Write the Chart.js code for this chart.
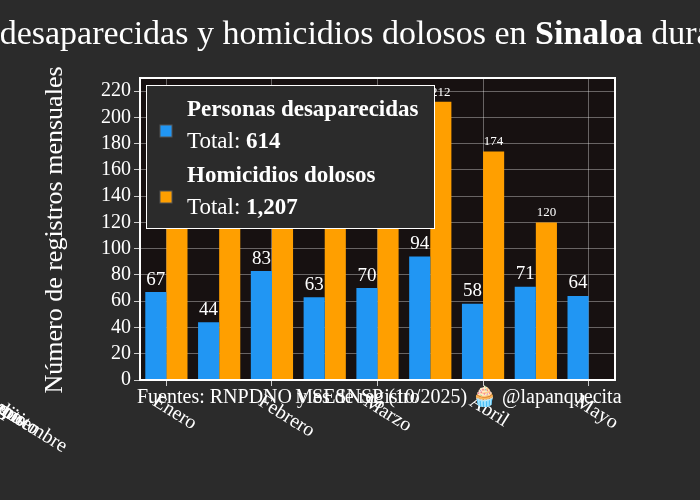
<!DOCTYPE html>
<html><head><meta charset="utf-8">
<script src="https://cdn.jsdelivr.net/npm/chart.js@4"></script>
<style>html,body{margin:0;background:#2b2b2b}#w{width:700px;height:500px}</style></head>
<body><div id="w"><canvas id="c"></canvas></div>
<script>
const months=["Enero","Febrero","Marzo","Abril","Mayo","Junio","Julio","Agosto","Septiembre"];
const desaparecidas=[67,44,83,63,70,94,58,71,64];
const homicidios=[138,129,152,142,140,212,174,120,null];
const yTicks=[0,20,40,60,80,100,120,140,160,180,200,220];
const F="'Liberation Serif', serif";
const sum=a=>a.reduce((s,v)=>s+(v||0),0);
const fmt=n=>n.toLocaleString('en-US');
const deco={id:'deco',
 beforeDraw(c){const {ctx,chartArea:a}=c;ctx.save();ctx.fillStyle='#171111';ctx.fillRect(a.left,a.top,a.right-a.left,a.bottom-a.top);ctx.restore();},
 afterDatasetsDraw(c){const ctx=c.ctx;ctx.save();ctx.textAlign='center';ctx.textBaseline='bottom';ctx.fillStyle='#fff';
  c.data.datasets.forEach((d,i)=>{c.getDatasetMeta(i).data.forEach((b,j)=>{const v=d.data[j];if(v==null)return;
   ctx.font=(i==0?'19px ':'13px ')+F;ctx.fillText(v,b.x,b.y-3);});});ctx.restore();},
 afterDraw(c){const {ctx,chartArea:a}=c;ctx.save();
  ctx.strokeStyle='#fff';ctx.lineWidth=2;ctx.strokeRect(a.left,a.top,a.right-a.left,a.bottom-a.top);
  ctx.fillStyle='#fff';
  // x tick labels rotated clockwise
  const xs=c.scales.x;ctx.font='20px '+F;ctx.textAlign='left';ctx.textBaseline='middle';
  months.forEach((m,i)=>{const px=xs.getPixelForTick(i);ctx.save();ctx.translate(px-12,400);ctx.rotate(32*Math.PI/180);ctx.fillText(m,0,0);ctx.restore();});
  // title
  const p1='Personas desaparecidas y homicidios dolosos en ',p2='Sinaloa',p3=' durante 2025';
  const S='34px ';ctx.font=S+F;const w1=ctx.measureText(p1).width,w3=ctx.measureText(p3).width;
  ctx.font='bold '+S+F;const w2=ctx.measureText(p2).width;
  let x=350-(w1+w2+w3)/2;ctx.textAlign='left';
  ctx.font=S+F;ctx.fillText(p1,x,35);x+=w1;ctx.font='bold '+S+F;ctx.fillText(p2,x,35);x+=w2;ctx.font=S+F;ctx.fillText(p3,x,35);
  // y title
  ctx.save();ctx.translate(55,230);ctx.rotate(-Math.PI/2);ctx.textAlign='center';ctx.font='26px '+F;ctx.fillText('Número de registros mensuales',0,0);ctx.restore();
  // x title + caption
  ctx.font='20px '+F;ctx.textAlign='center';ctx.fillText('Mes de registro',(a.left+a.right)/2-20,398);
  ctx.textAlign='left';ctx.fillText('Fuentes: RNPDNO y SESNSP (10/2025) 🧁 @lapanquecita',137,398);
  // legend
  ctx.fillStyle='#2b2b2b';ctx.fillRect(146,85,288,143);ctx.strokeStyle='#fff';ctx.lineWidth=1;ctx.strokeRect(146.5,85.5,288,143);
  const items=[['Personas desaparecidas',sum(desaparecidas),'#2196f3',110],['Homicidios dolosos',sum(homicidios),'#ff9f00',176]];
  items.forEach(([n,t,col,y])=>{ctx.fillStyle=col;ctx.fillRect(160,y+15,12,12);ctx.strokeStyle='#555';ctx.strokeRect(160,y+15,12,12);
   ctx.fillStyle='#fff';ctx.font='bold 23px '+F;ctx.fillText(n,187,y);ctx.font='23px '+F;ctx.fillText('Total: ',187,y+32);
   const tw=ctx.measureText('Total: ').width;ctx.font='bold 23px '+F;ctx.fillText(fmt(t),187+tw,y+32);});
  ctx.restore();}};
new Chart(document.getElementById('c'),{type:'bar',
 data:{labels:months,datasets:[
  {label:'Personas desaparecidas',data:desaparecidas,backgroundColor:'#2196f3'},
  {label:'Homicidios dolosos',data:homicidios,backgroundColor:'#ff9f00'}]},
 options:{responsive:true,maintainAspectRatio:false,animation:false,
  layout:{padding:{top:78,right:85,left:0,bottom:0}},
  datasets:{bar:{categoryPercentage:0.8,barPercentage:1}},
  plugins:{legend:{display:false},tooltip:{enabled:false}},
  scales:{
   x:{afterFit(s){s.height=120;},grid:{offset:false,color:'rgba(255,255,255,0.35)',tickColor:'#ccc',tickLength:6,drawTicks:true},border:{display:false},
      ticks:{display:true,color:'rgba(0,0,0,0)',font:{family:F,size:20},maxRotation:0,minRotation:0,padding:0}},
   y:{min:0,max:230,afterFit(s){s.width=140;},afterBuildTicks(s){s.ticks=yTicks.map(v=>({value:v}));},
      grid:{color:'rgba(255,255,255,0.35)',tickColor:'#ccc',tickLength:6},border:{display:false},
      ticks:{color:'#fff',font:{family:F,size:20},padding:3}}}}
 ,plugins:[deco]});
</script></body></html>
